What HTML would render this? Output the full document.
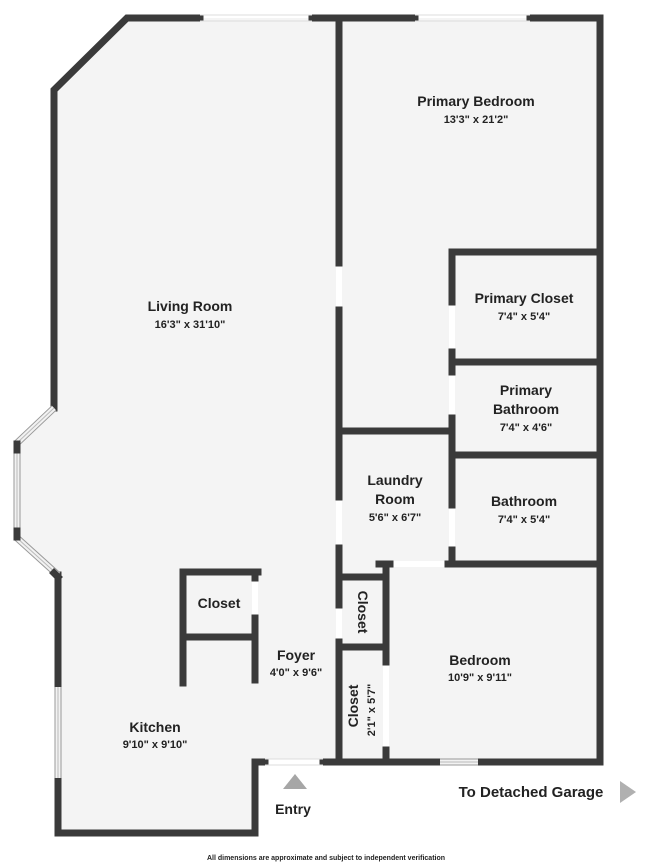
<!DOCTYPE html>
<html><head><meta charset="utf-8"><style>
html,body{margin:0;padding:0;background:#fff;}
svg{display:block;}
text{font-family:"Liberation Sans",sans-serif;fill:#222;text-anchor:middle;}
.n{font-size:14px;font-weight:bold;}
.d{font-size:11px;font-weight:bold;}
</style></head><body>
<svg width="650" height="865" viewBox="0 0 650 865" xmlns="http://www.w3.org/2000/svg">
<polygon points="127,18 600,18 600,762 255,762 255,833 58,833 58,575 17,538 17,443 54,408 54,90" fill="#f4f4f4"/>
<!-- door gap fills -->
<g stroke="#ffffff" stroke-width="6" fill="none">
<line x1="339" y1="263" x2="339" y2="310"/>
<line x1="339" y1="497" x2="339" y2="548"/>
<line x1="339" y1="605" x2="339" y2="642"/>
<line x1="452" y1="302" x2="452" y2="352"/>
<line x1="452" y1="372" x2="452" y2="418"/>
<line x1="452" y1="505" x2="452" y2="550"/>
<line x1="390" y1="564" x2="448" y2="564"/>
<line x1="386" y1="662" x2="386" y2="750"/>
<line x1="255" y1="578" x2="255" y2="618"/>
<line x1="265" y1="762" x2="323" y2="762"/>
</g>
<g stroke="#3a3a3a" stroke-width="7" fill="none" stroke-linecap="square">
<polyline points="200,18 127,18 54,90 54,408"/>
<line x1="312" y1="18" x2="415" y2="18"/>
<polyline points="530,18 600,18 600,762 478,762"/>
<line x1="440" y1="762" x2="323" y2="762"/>
<polyline points="265,762 255,762 255,833 58,833 58,778"/>
<line x1="58" y1="687" x2="58" y2="575"/>
<line x1="339" y1="18" x2="339" y2="263"/>
<line x1="339" y1="310" x2="339" y2="497"/>
<line x1="339" y1="548" x2="339" y2="605"/>
<line x1="339" y1="642" x2="339" y2="762"/>
<line x1="452" y1="252" x2="600" y2="252"/>
<line x1="452" y1="252" x2="452" y2="302"/>
<line x1="452" y1="352" x2="452" y2="372"/>
<line x1="452" y1="362" x2="600" y2="362"/>
<line x1="452" y1="418" x2="452" y2="505"/>
<line x1="452" y1="455" x2="600" y2="455"/>
<line x1="339" y1="431" x2="452" y2="431"/>
<line x1="452" y1="550" x2="452" y2="564"/>
<line x1="448" y1="564" x2="600" y2="564"/>
<line x1="379" y1="564" x2="390" y2="564"/>
<line x1="386" y1="564" x2="386" y2="662"/>
<line x1="386" y1="750" x2="386" y2="762"/>
<line x1="339" y1="577" x2="386" y2="577"/>
<line x1="339" y1="647" x2="386" y2="647"/>
<polyline points="183,683 183,572 258,572"/>
<line x1="255" y1="572" x2="255" y2="578"/>
<line x1="255" y1="618" x2="255" y2="680"/>
<line x1="183" y1="637" x2="255" y2="637"/>
</g>
<g stroke="#999" stroke-width="7" fill="none">
<polyline points="54,408 17,443 17,538 58,575"/>
<line x1="58" y1="687" x2="58" y2="778"/>
<line x1="440" y1="762" x2="478" y2="762"/>
</g>
<g stroke="#f2f2f2" stroke-width="5" fill="none">
<polyline points="54,408 17,443 17,538 58,575"/>
<line x1="58" y1="687" x2="58" y2="778"/>
<line x1="440" y1="762" x2="478" y2="762"/>
</g>
<g stroke="#bbb" stroke-width="1" fill="none">
<polyline points="54,408 17,443 17,538 58,575"/>
<line x1="58" y1="687" x2="58" y2="778"/>
<line x1="440" y1="762" x2="478" y2="762"/>
</g>
<g stroke="#3a3a3a" stroke-width="7" stroke-linecap="square">
<line x1="17" y1="444" x2="17" y2="450"/><line x1="17" y1="531" x2="17" y2="537"/>
<line x1="54" y1="573" x2="58" y2="577"/>
</g>
<g stroke="#ddd" stroke-width="1">
<line x1="200" y1="15" x2="312" y2="15"/><line x1="200" y1="21" x2="312" y2="21"/>
<line x1="415" y1="15" x2="530" y2="15"/><line x1="415" y1="21" x2="530" y2="21"/>
<line x1="265" y1="759" x2="323" y2="759"/><line x1="265" y1="765" x2="323" y2="765"/>
</g>
<text class="n" x="476" y="106">Primary Bedroom</text><text class="d" x="476" y="123">13'3" x 21'2"</text>
<text class="n" x="190" y="311">Living Room</text><text class="d" x="190" y="328">16'3" x 31'10"</text>
<text class="n" x="524" y="303">Primary Closet</text><text class="d" x="524" y="320">7'4" x 5'4"</text>
<text class="n" x="526" y="395">Primary</text><text class="n" x="526" y="414">Bathroom</text><text class="d" x="526" y="431">7'4" x 4'6"</text>
<text class="n" x="395" y="485">Laundry</text><text class="n" x="395" y="504">Room</text><text class="d" x="395" y="521">5'6" x 6'7"</text>
<text class="n" x="524" y="506">Bathroom</text><text class="d" x="524" y="523">7'4" x 5'4"</text>
<text class="n" x="219" y="608">Closet</text>
<text class="n" transform="translate(358,612) rotate(90)" x="0" y="0">Closet</text>
<text class="n" x="296" y="660">Foyer</text><text class="d" x="296" y="676">4'0" x 9'6"</text>
<text class="n" x="480" y="665">Bedroom</text><text class="d" x="480" y="681">10'9" x 9'11"</text>
<text class="n" transform="translate(358,706) rotate(-90)" x="0" y="0">Closet</text>
<text class="d" transform="translate(375,710) rotate(-90)" x="0" y="0">2'1" x 5'7"</text>
<text class="n" x="155" y="732">Kitchen</text><text class="d" x="155" y="748">9'10" x 9'10"</text>
<polygon points="295,774 283,789 307,789" fill="#a6a6a6"/>
<text class="n" x="293" y="814">Entry</text>
<text class="n" x="531" y="797" style="font-size:15px">To Detached Garage</text>
<polygon points="620,781 636,792 620,803" fill="#b0b0b0"/>
<text x="326" y="860" style="font-size:7px;font-weight:bold">All dimensions are approximate and subject to independent verification</text>
</svg>
</body></html>
